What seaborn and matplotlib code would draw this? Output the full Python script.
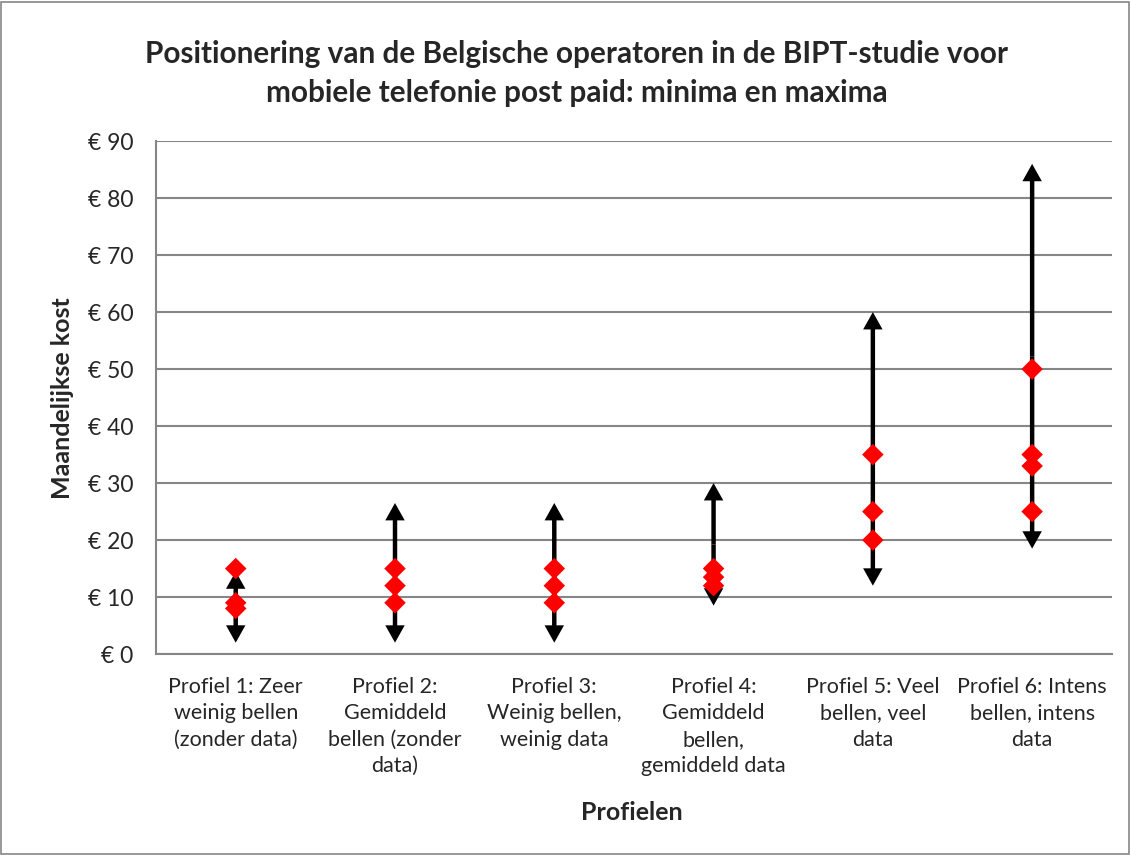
import matplotlib
matplotlib.use("Agg")
import matplotlib.pyplot as plt
import matplotlib.patches as mpatches
import pandas as pd
import seaborn as sns

# data
profielen = [
    "Profiel 1: Zeer\nweinig bellen\n(zonder data)",
    "Profiel 2:\nGemiddeld\nbellen (zonder\ndata)",
    "Profiel 3:\nWeinig bellen,\nweinig data",
    "Profiel 4:\nGemiddeld\nbellen,\ngemiddeld data",
    "Profiel 5: Veel\nbellen, veel\ndata",
    "Profiel 6: Intens\nbellen, intens\ndata",
]
kost_min = [2, 2, 2, 8.5, 12, 18.5]
kost_max = [14.5, 26.5, 26.5, 30, 60, 86]
operatoren = [
    [15, 9, 8],
    [15, 12, 9],
    [15, 12, 9],
    [15, 13.5, 12],
    [35, 25, 20],
    [50, 35, 33, 25],
]
y_ticks = [0, 10, 20, 30, 40, 50, 60, 70, 80, 90]

rows = []
for i, prijzen in enumerate(operatoren):
    for p in prijzen:
        rows.append({"profiel": i, "kost": p})
df = pd.DataFrame(rows)

sns.set_style("white")
plt.rcParams["font.family"] = ["Lato", "DejaVu Sans"]

fig = plt.figure(figsize=(11.31, 8.55), dpi=100)
ax = fig.add_axes([0.138, 0.235, 0.845, 0.6])

grey = "#868686"

# min-max arrows: two single-headed arrows from the middle so tips land on the values
pijl = dict(width=3.2, headwidth=14, headlength=12.5, shrink=0, facecolor="black",
            edgecolor="none")
for i in range(len(profielen)):
    mid = (kost_min[i] + kost_max[i]) / 2
    ax.annotate("", xy=(i, kost_max[i]), xytext=(i, mid), arrowprops=pijl, zorder=3)
    ax.annotate("", xy=(i, kost_min[i]), xytext=(i, mid), arrowprops=pijl, zorder=3)

sns.scatterplot(data=df, x="profiel", y="kost", marker="D", s=120, color="#ff0000",
                edgecolor="none", ax=ax, zorder=4)

ax.set_xlim(-0.5, len(profielen) - 0.5)
ax.set_ylim(0, 90)
ax.set_yticks(y_ticks)
ax.set_yticklabels([f"€ {v}" for v in y_ticks], fontsize=16.5)
ax.set_xticks(range(len(profielen)))
ax.set_xticklabels(profielen, fontsize=15.5, linespacing=1.4, va="top")
ax.set_xticks([i - 0.5 for i in range(len(profielen) + 1)], minor=True)
ax.tick_params(axis="x", which="major", length=0, pad=16.5)
ax.tick_params(axis="x", which="minor", length=6, color=grey, width=1.2, direction="out")
ax.tick_params(axis="y", length=8, color=grey, width=1.2, direction="out", pad=8.5)
ax.yaxis.grid(True, color=grey, lw=1.5)
ax.set_axisbelow(True)
for s in ["top", "right"]:
    ax.spines[s].set_visible(False)
for s in ["left", "bottom"]:
    ax.spines[s].set_color(grey)
    ax.spines[s].set_linewidth(1.5)

ax.set_xlabel("Profielen", fontsize=18, fontweight="bold", va="center")
ax.xaxis.set_label_coords(0.498, -0.308)
ax.set_ylabel("Maandelijkse kost", fontsize=18, fontweight="bold", va="center")
ax.yaxis.set_label_coords(-0.098, 0.499)

fig.text(0.51, 0.914,
         "Positionering van de Belgische operatoren in de BIPT-studie voor\nmobiele telefonie post paid: minima en maxima",
         ha="center", va="center", fontsize=21.4, fontweight="bold", linespacing=1.5)

fig.patches.append(mpatches.Rectangle((0.001, 0.001), 0.997, 0.997, transform=fig.transFigure,
                                      fill=False, edgecolor=grey, lw=1.2))

fig.savefig("out.png", dpi=100)
